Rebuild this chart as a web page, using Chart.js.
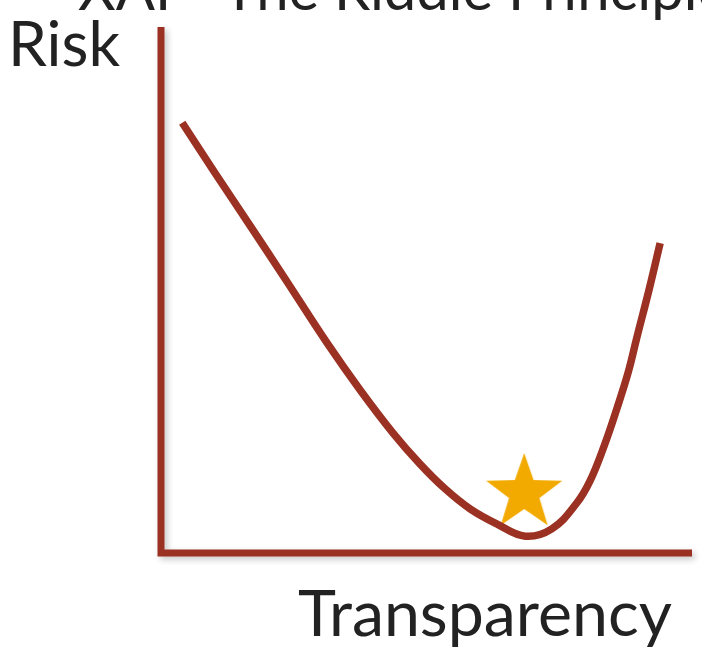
<!DOCTYPE html>
<html>
<head>
<meta charset="utf-8">
<script src="https://cdn.jsdelivr.net/npm/chart.js@4.4.0/dist/chart.umd.min.js"></script>
<style>
    html, body { margin: 0; padding: 0; background: #ffffff; }
    #risk-chart { display: block; }
</style>
</head>
<body>
<canvas id="risk-chart" width="702" height="662"></canvas>
<script>
// curve (0..100 on both axes)
const transparency = [4.0, 10.2, 16.8, 23.4, 31.3, 37.5, 43.7, 48.8, 53.5, 58.2, 63.3,
    68.6, 73.6, 78.3, 80.8, 83.4, 85.9, 88.0, 89.6, 91.9, 94.0]
const risk = [81.8, 72.2, 62.2, 52.1, 39.9, 31.0, 22.8, 16.9, 12.2, 8.4, 5.5,
    3.2, 4.6, 9.5, 13.7, 20.2, 27.6, 34.4, 40.9, 50.0, 58.9]
const optimumX = [68.4]
const optimumY = [11.4]

const titleText = "XAI - The Riddle Principle"
const yAxisLabel = "Risk"
const xAxisLabel = "Transparency"

const lineColor = "#9b3122"
const starColor = "#f2aa00"
const textColor = "#222222"

// filled five point star used as point style
function makeStar(radius, color) {
    const c = document.createElement("canvas")
    c.width = radius * 2 + 2
    c.height = radius * 2 + 2
    const ctx = c.getContext("2d")
    const cx = c.width / 2, cy = c.height / 2
    ctx.beginPath()
    for (let i = 0; i < 10; i++) {
        const r = i % 2 === 0 ? radius : radius * 0.4
        const a = -Math.PI / 2 + i * Math.PI / 5
        const px = cx + r * Math.cos(a), py = cy + r * Math.sin(a)
        if (i === 0) ctx.moveTo(px, py); else ctx.lineTo(px, py)
    }
    ctx.closePath()
    ctx.fillStyle = color
    ctx.fill()
    return c
}

function fitText(ctx, text, family, targetWidth) {
    ctx.font = "100px " + family
    const size = 100 * targetWidth / ctx.measureText(text).width
    ctx.font = size + "px " + family
}

const axesPlugin = {
    id: "axesLines",
    beforeDatasetsDraw(chart) {
        const ctx = chart.ctx
        const x = chart.scales.x, y = chart.scales.y
        const x0 = x.getPixelForValue(0), x1 = x.getPixelForValue(100)
        const y0 = y.getPixelForValue(0), y1 = y.getPixelForValue(100)
        ctx.save()
        ctx.shadowColor = "rgba(0, 0, 0, 0.22)"
        ctx.shadowBlur = 6
        ctx.shadowOffsetX = 3
        ctx.shadowOffsetY = 3
        ctx.strokeStyle = lineColor
        ctx.lineWidth = 7
        ctx.lineCap = "butt"
        ctx.lineJoin = "miter"
        ctx.beginPath()
        ctx.moveTo(x0, y1)
        ctx.lineTo(x0, y0)
        ctx.lineTo(x1, y0)
        ctx.stroke()
        ctx.restore()
    },
    afterDraw(chart) {
        const ctx = chart.ctx
        const family = "Lato, 'Noto Sans', sans-serif"
        ctx.save()
        ctx.fillStyle = textColor
        ctx.textBaseline = "alphabetic"
        ctx.textAlign = "left"

        ctx.font = "58px " + family
        ctx.fillText(titleText, 78, 10)

        fitText(ctx, yAxisLabel, family, 112)
        ctx.fillText(yAxisLabel, 8, 66)

        fitText(ctx, xAxisLabel, family, 374)
        ctx.fillText(xAxisLabel, 298, 636)
        ctx.restore()
    }
}

const riskChart = new Chart(document.getElementById("risk-chart"), {
    type: "scatter",
    data: {
        datasets: [
            {
                label: "Risk",
                data: transparency.map((t, i) => ({x: t, y: risk[i]})),
                showLine: true,
                borderColor: lineColor,
                borderWidth: 7.5,
                borderCapStyle: "butt",
                borderJoinStyle: "round",
                tension: 0.4,
                pointRadius: 0,
                order: 1
            },
            {
                label: "Optimum",
                data: optimumX.map((t, i) => ({x: t, y: optimumY[i]})),
                pointStyle: makeStar(40, starColor),
                order: 2
            }
        ]
    },
    options: {
        responsive: false,
        animation: false,
        layout: {
            padding: {left: 161, right: 10, top: 27, bottom: 109}
        },
        scales: {
            x: {type: "linear", min: 0, max: 100, display: false},
            y: {type: "linear", min: 0, max: 100, display: false}
        },
        plugins: {
            legend: {display: false},
            tooltip: {enabled: false}
        }
    },
    plugins: [axesPlugin]
})
</script>
</body>
</html>
